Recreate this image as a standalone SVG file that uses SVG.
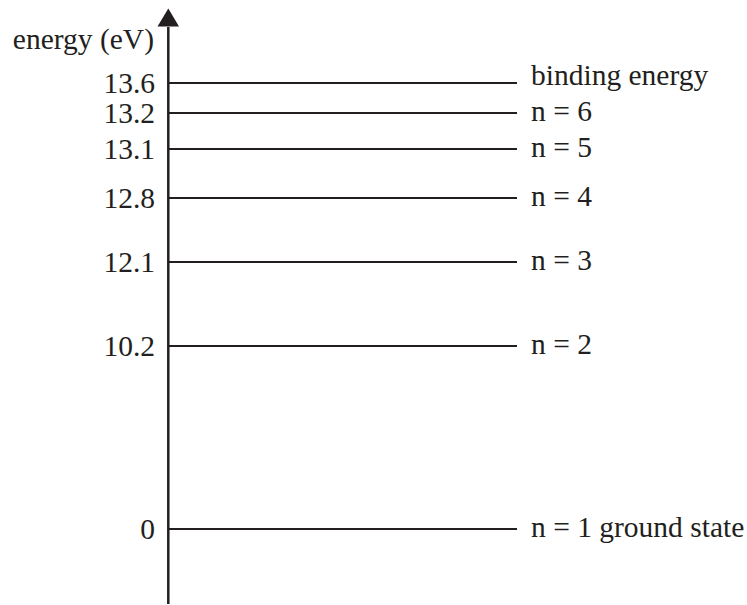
<svg xmlns="http://www.w3.org/2000/svg" width="747" height="605" viewBox="0 0 747 605">
<style>
  text { font-family: "Liberation Serif", "Times New Roman", serif; font-size: 29.5px; fill: #231f20; }
  .val { text-anchor: end; }
  .lvl { stroke: #231f20; stroke-width: 2.2; fill: none; }
  .axis { stroke: #231f20; stroke-width: 2.5; fill: none; }
</style>
<rect width="747" height="605" fill="#ffffff"/>
<g id="connectors">
  <path class="axis" d="M168.3,604 L168.3,27"/>
  <polygon points="157.5,26.5 168.3,8.5 179,26.5" fill="#231f20"/>
</g>
<text id="axis-label" x="154" y="49" class="val">energy (eV)</text>
<g id="level-binding">
  <line class="lvl" x1="169" y1="83" x2="517" y2="83"/>
  <text x="155" y="93" class="val">13.6</text>
  <text x="531" y="85">binding energy</text>
</g>
<g id="level-n6">
  <line class="lvl" x1="169" y1="113" x2="517" y2="113"/>
  <text x="155" y="123" class="val">13.2</text>
  <text x="531" y="120.5">n = 6</text>
</g>
<g id="level-n5">
  <line class="lvl" x1="169" y1="149" x2="517" y2="149"/>
  <text x="155" y="159" class="val">13.1</text>
  <text x="531" y="156.5">n = 5</text>
</g>
<g id="level-n4">
  <line class="lvl" x1="169" y1="198" x2="517" y2="198"/>
  <text x="155" y="208" class="val">12.8</text>
  <text x="531" y="205.5">n = 4</text>
</g>
<g id="level-n3">
  <line class="lvl" x1="169" y1="262" x2="517" y2="262"/>
  <text x="155" y="272" class="val">12.1</text>
  <text x="531" y="269.5">n = 3</text>
</g>
<g id="level-n2">
  <line class="lvl" x1="169" y1="346" x2="517" y2="346"/>
  <text x="155" y="356" class="val">10.2</text>
  <text x="531" y="353.5">n = 2</text>
</g>
<g id="level-n1">
  <line class="lvl" x1="169" y1="529" x2="517" y2="529"/>
  <text x="155" y="539" class="val">0</text>
  <text x="531" y="536.5">n = 1 ground state</text>
</g>
</svg>
